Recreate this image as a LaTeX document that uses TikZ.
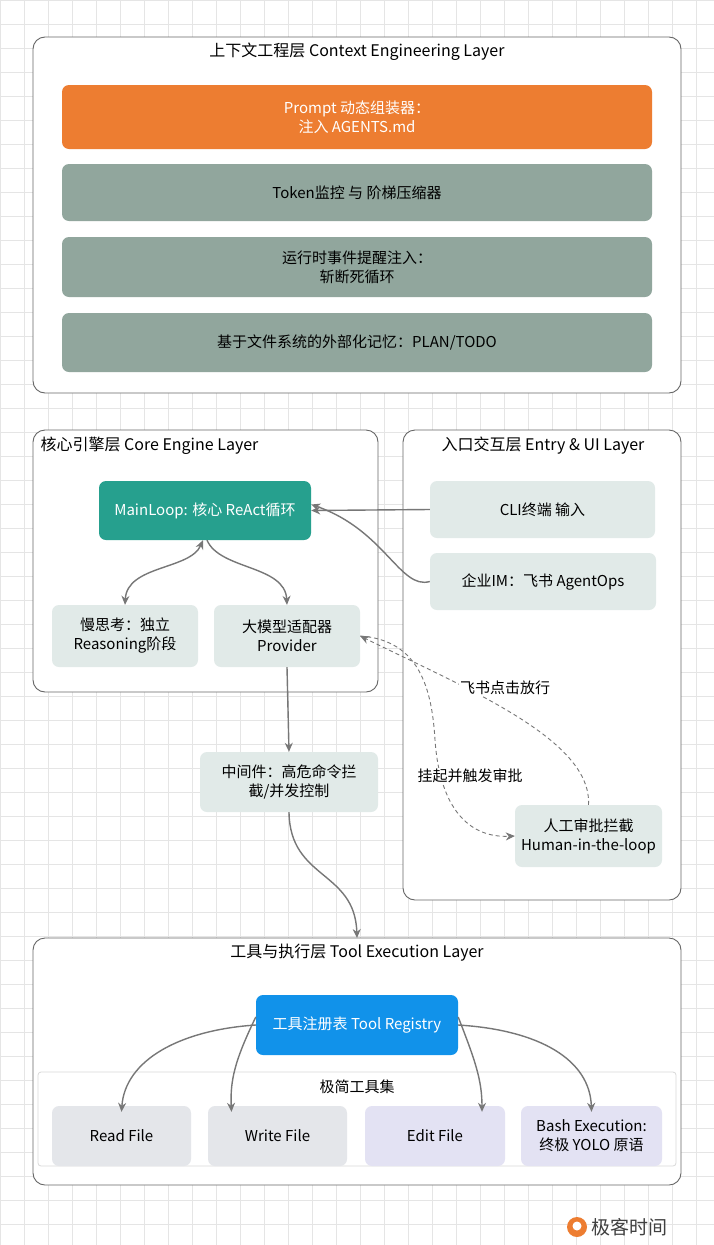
\documentclass[tikz,border=0pt]{standalone}
\usepackage{fontspec}
\setmainfont{Noto Sans CJK SC}
\usetikzlibrary{arrows.meta}
\definecolor{gg}{HTML}{91A69D}
\definecolor{lg}{HTML}{E1EAE8}
\definecolor{tl}{HTML}{26A08E}
\definecolor{og}{HTML}{ED7D31}
\definecolor{bl}{HTML}{1192EA}
\definecolor{gy}{HTML}{E4E6EA}
\definecolor{lv}{HTML}{E3E2F3}
\definecolor{ar}{HTML}{777777}
\begin{document}
\begin{tikzpicture}[x=1pt,y=-1pt,
  layer/.style={draw=black!60,line width=0.9pt,rounded corners=12pt,fill=white},
  box/.style={rounded corners=7pt,align=center,font=\fontsize{15}{19}\selectfont},
  lbl/.style={font=\fontsize{16}{19}\selectfont},
  arr/.style={draw=ar,line width=1.4pt,-{Stealth[length=9pt,width=8pt]}},
  dsh/.style={draw=ar,line width=0.9pt,dash pattern=on 4pt off 3pt,-{Stealth[length=9pt,width=8pt]}}]
\useasboundingbox (0,0) rectangle (714,1245);
\fill[white] (0,0) rectangle (714,1245);
\foreach \i in {0,...,30} {\draw[black!10,line width=0.6pt] (\i*24,0) -- (\i*24,1245);}
\foreach \i in {0,...,52} {\draw[black!10,line width=0.6pt] (0,\i*24) -- (714,\i*24);}
% top layer
\draw[layer] (33,37) rectangle (681,393);
\node[lbl] (tt) at (357,52) {上下文工程层 Context Engineering Layer};
\node[box,fill=og,text=white,minimum width=590,minimum height=64] (p) at (357,117) {Prompt 动态组装器：\\注入 AGENTS.md};
\node[box,fill=gg,text=black,minimum width=590,minimum height=57] (tk) at (357,192.5) {Token监控 与 阶梯压缩器};
\node[box,fill=gg,text=black,minimum width=590,minimum height=60] (ev) at (357,267) {运行时事件提醒注入：\\斩断死循环};
\node[box,fill=gg,text=black,minimum width=590,minimum height=59] (fs) at (357,342.5) {基于文件系统的外部化记忆：PLAN/TODO};
% core & entry
\draw[layer] (33,430) rectangle (378,692);
\node[lbl,anchor=west] (ct) at (37,446) {核心引擎层 Core Engine Layer};
\draw[layer] (403,430) rectangle (681,900);
\node[lbl] (et) at (543,446) {入口交互层 Entry \& UI Layer};
\node[box,fill=tl,text=white,minimum width=212,minimum height=59] (ml) at (205,510.5) {MainLoop: 核心 ReAct循环};
\node[box,fill=lg,minimum width=225,minimum height=57] (cli) at (542.5,509.5) {CLI终端 输入};
\node[box,fill=lg,minimum width=226,minimum height=57] (im) at (543,581.5) {企业IM：飞书 AgentOps};
\node[box,fill=lg,minimum width=146,minimum height=62] (sl) at (125,636) {慢思考：独立\\Reasoning阶段};
\node[box,fill=lg,minimum width=146,minimum height=62] (pv) at (287,636) {大模型适配器\\Provider};
\node[box,fill=lg,minimum width=178,minimum height=60] (mw) at (289,782) {中间件：高危命令拦\\截/并发控制};
\node[box,fill=lg,minimum width=147,minimum height=62] (hu) at (588.5,836) {人工审批拦截\\Human-in-the-loop};
\draw[arr] (cli.west) -- (ml.east);
\draw[arr] (im.west) .. controls (400,590) and (385,530) .. ([yshift=6pt]ml.east);
\draw[arr] ([xshift=2pt]ml.south) .. controls (220,570) and (285,565) .. (pv.north);
\draw[arr,{Stealth[length=9pt,width=8pt]}-{Stealth[length=9pt,width=8pt]}] ([xshift=-2pt]ml.south) .. controls (190,570) and (127,565) .. (sl.north);
\draw[arr] (pv.south) -- (mw.north);
\draw[arr] (mw.south) .. controls (290,880) and (355,870) .. (357,938);
\draw[dsh] (pv.east) .. controls (420,640) and (432,690) .. (435,740) .. controls (440,810) and (470,838) .. (hu.west);
\draw[dsh] (hu.north) .. controls (592,740) and (470,690) .. (pv.east);
\node[fill=white,font=\fontsize{15}{19}\selectfont,inner sep=1pt] (l1) at (470,776) {挂起并触发审批};
\node[fill=white,font=\fontsize{15}{19}\selectfont,inner sep=1pt] (l2) at (505,688) {飞书点击放行};
% tool layer
\draw[layer] (33,938) rectangle (681,1185);
\node[lbl] (tl) at (357,953) {工具与执行层 Tool Execution Layer};
\draw[black!15,line width=0.8pt,rounded corners=3pt] (38,1072) rectangle (676,1166);
\node[box] (ts) at (357,1087) {极简工具集};
\node[box,fill=bl,text=white,minimum width=202,minimum height=60] (rg) at (357,1025) {工具注册表 Tool Registry};
\node[box,fill=gy,minimum width=139,minimum height=60] (rd) at (121.5,1136) {Read File};
\node[box,fill=gy,minimum width=139,minimum height=60] (wr) at (277.5,1136) {Write File};
\node[box,fill=lv,minimum width=140,minimum height=60] (ed) at (435,1136) {Edit File};
\node[box,fill=lv,minimum width=141,minimum height=60] (bs) at (591.5,1136) {Bash Execution:\\终极 YOLO 原语};
\draw[arr] (rg.west) .. controls (180,1030) and (125,1060) .. ([yshift=-6pt]rd.north);
\draw[arr] ([yshift=8pt]rg.west) .. controls (235,1060) and (230,1080) .. ([xshift=-46pt,yshift=-6pt]wr.north);
\draw[arr] ([yshift=8pt]rg.east) .. controls (475,1060) and (482,1080) .. ([xshift=47pt,yshift=-6pt]ed.north);
\draw[arr] (rg.east) .. controls (540,1030) and (590,1060) .. ([yshift=-6pt]bs.north);
% logo
\fill[og] (577,1227) circle (10);
\fill[white] (577,1226) circle (4.5);
\node[anchor=west,font=\fontsize{19}{22}\selectfont,text=black!75] (lg) at (588,1227) {极客时间};
\end{tikzpicture}
\end{document}
